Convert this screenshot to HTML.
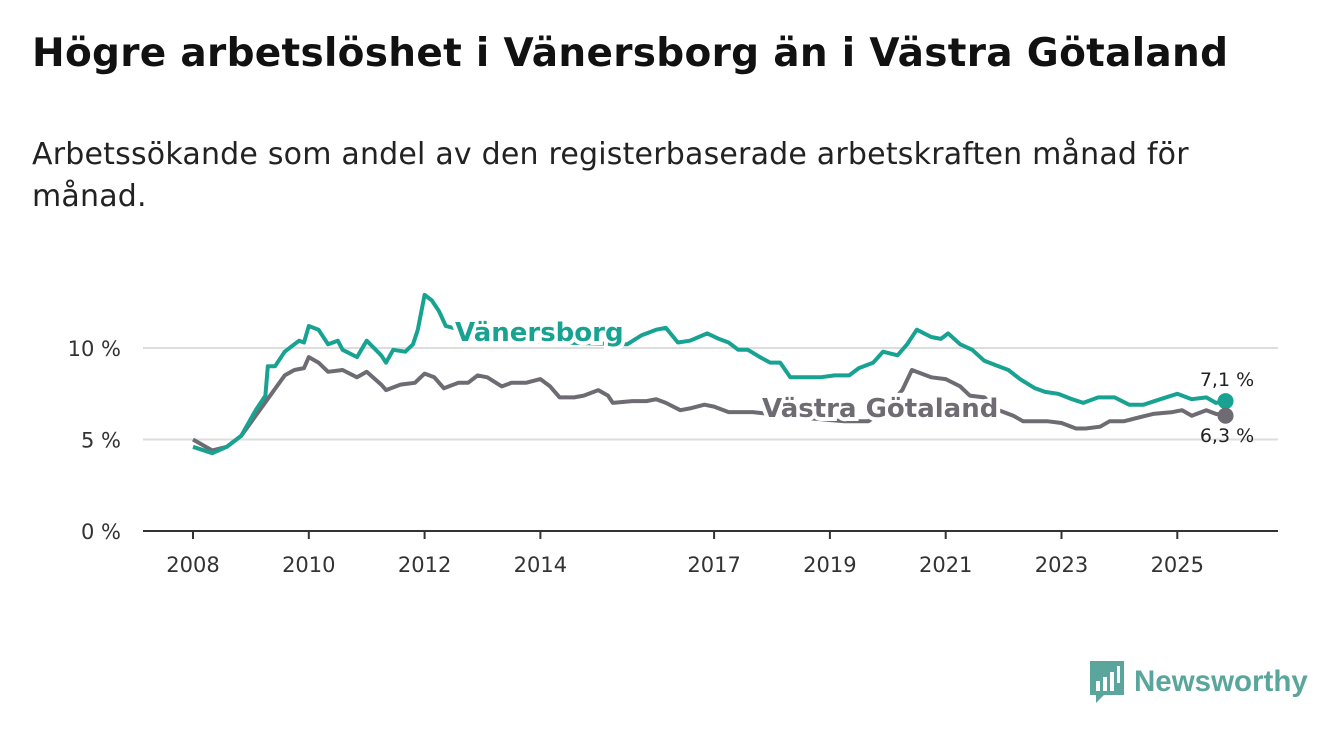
<!DOCTYPE html>
<html><head><meta charset="utf-8"><style>
body{margin:0;width:1340px;height:734px;background:#fff;font-family:"DejaVu Sans","Liberation Sans",sans-serif;overflow:hidden;position:relative}
h1{position:absolute;left:32px;top:31px;margin:0;font-size:39px;font-weight:bold;color:#111;white-space:nowrap;letter-spacing:0.3px}
p{position:absolute;left:32px;top:134px;margin:0;font-size:30px;line-height:42px;color:#222;width:1250px;letter-spacing:0.2px}
</style></head><body>
<h1>Högre arbetslöshet i Vänersborg än i Västra Götaland</h1>
<p>Arbetssökande som andel av den registerbaserade arbetskraften månad för<br>månad.</p>
<svg id="c" width="1340" height="734" style="position:absolute;left:0;top:0"></svg>
<script>
// months since Jan 2008
const vMonths=[0,4,7,10,13,15,15.5,17,19,21,22,23,24,26,28,30,31,34,36,39,40,41.5,44,45.6,46.6,48,49.5,51,52.4,64,76,90,93,96,98,100.5,103,106.6,109,111,113,115,117.5,119.6,121.7,123.8,127,130,133,136,138,141,143,146,148,150,153,155,156.5,159,161.5,164,166,169,171.4,174.5,176.6,179.3,182.2,184.5,187.6,191,194,197,200.5,204,207,210,212,214];
const vVals=[4.6,4.25,4.6,5.2,6.6,7.4,9.0,9.0,9.8,10.2,10.4,10.3,11.2,11.0,10.2,10.4,9.9,9.5,10.4,9.6,9.2,9.9,9.8,10.2,11.0,12.9,12.6,12.0,11.2,10.4,10.3,10.2,10.7,11.0,11.1,10.3,10.4,10.8,10.5,10.3,9.9,9.9,9.5,9.2,9.2,8.4,8.4,8.4,8.5,8.5,8.9,9.2,9.8,9.6,10.2,11.0,10.6,10.5,10.8,10.2,9.9,9.3,9.1,8.8,8.3,7.8,7.6,7.5,7.2,7.0,7.3,7.3,6.9,6.9,7.2,7.5,7.2,7.3,7.0,7.1];
const gMonths=[0,4,7,10,13,16,19,21,23,24,26,28,31,34,36,39,40,43,46,48,50,52,55,57,59,61,64,66,69,72,74,76,79,81,84,86,87,91,94,96,98,101,103,106,108,111,113,116,126,135,140,144,147,149,153,156,159,161,164,167,170,172,177,180,183,185,188,190,193,196,199,203,205,207,210,212,214];
const gVals=[5.0,4.4,4.6,5.2,6.3,7.4,8.5,8.8,8.9,9.5,9.2,8.7,8.8,8.4,8.7,8.0,7.7,8.0,8.1,8.6,8.4,7.8,8.1,8.1,8.5,8.4,7.9,8.1,8.1,8.3,7.9,7.3,7.3,7.4,7.7,7.4,7.0,7.1,7.1,7.2,7.0,6.6,6.7,6.9,6.8,6.5,6.5,6.5,6.2,6.0,6.0,6.8,7.7,8.8,8.4,8.3,7.9,7.4,7.3,6.6,6.3,6.0,6.0,5.9,5.6,5.6,5.7,6.0,6.0,6.2,6.4,6.5,6.6,6.3,6.6,6.4,6.3];
const xTicks=[2008,2010,2012,2014,2017,2019,2021,2023,2025];
const yTicks=[0,5,10];
const X=d=>193+(d-2008)*57.9, XM=m=>X(2008+m/12), Y=v=>531-v*18.3;
const s=document.getElementById('c'),NS='http://www.w3.org/2000/svg';
function mk(t,a,txt){const e=document.createElementNS(NS,t);for(const k in a)e.setAttribute(k,a[k]);if(txt!==undefined)e.textContent=txt;s.appendChild(e);return e;}
yTicks.forEach(v=>{
 if(v>0){const g=mk('line',{x1:143,x2:1278,y1:Y(v),y2:Y(v),stroke:'#ddd','stroke-width':2});
 
 }
 const t=mk('text',{x:121,y:Y(v)+8,'text-anchor':'end','font-size':21,fill:'#333'},v+' %');
 
 
});
const ax=mk('line',{x1:143,x2:1278,y1:531,y2:531,stroke:'#333','stroke-width':2});


xTicks.forEach(d=>{
 const l=mk('line',{x1:X(d),x2:X(d),y1:531,y2:539,stroke:'#333','stroke-width':2});
 
 
 const t=mk('text',{x:X(d),y:572,'text-anchor':'middle','font-size':21,fill:'#333'},d);
 
 
});
function line(ms,vs,col,name){
 const p=mk('path',{d:ms.map((m,i)=>(i?'L':'M')+XM(m).toFixed(1)+','+Y(vs[i]).toFixed(1)).join(''),fill:'none',stroke:col,'stroke-width':4,'stroke-linejoin':'round'});
 
 
}
line(gMonths,gVals,'#6e6b73','line-vastra-gotaland');
line(vMonths,vVals,'#17a292','line-vanersborg');
const c1=mk('circle',{cx:XM(vMonths[vMonths.length-1]),cy:Y(vVals[vVals.length-1]),r:8,fill:'#17a292'});


const c2=mk('circle',{cx:XM(gMonths[gMonths.length-1]),cy:Y(gVals[gVals.length-1]),r:8,fill:'#6e6b73'});


const e1=mk('text',{x:1227,y:386,'text-anchor':'middle','font-size':19,fill:'#222'},vVals[vVals.length-1].toString().replace('.',',')+' %');


const e2=mk('text',{x:1227,y:442,'text-anchor':'middle','font-size':19,fill:'#222'},gVals[gVals.length-1].toString().replace('.',',')+' %');


const a=mk('text',{x:455,y:341,'font-size':26,'font-weight':'bold',fill:'#17a292',stroke:'#fff','stroke-width':8,'paint-order':'stroke'},'Vänersborg');


const b=mk('text',{x:762,y:417,'font-size':26,'font-weight':'bold',fill:'#6e6b73',stroke:'#fff','stroke-width':8,'paint-order':'stroke'},'Västra Götaland');


</script>
<div style="position:absolute;left:1090px;top:661px;display:flex;align-items:center">
<svg width="36" height="42"><path d="M0 0H34V34H14L6 42V34H0Z" fill="#5aa69c"/><rect x="6" y="20" width="4" height="10" fill="#fff"/><rect x="13" y="16" width="4" height="14" fill="#fff"/><rect x="20" y="11" width="4" height="19" fill="#fff"/><rect x="27" y="5" width="3" height="17" fill="#fff"/></svg>
<span style="margin-left:8px;font-size:29.5px;font-weight:bold;color:#5aa69c;font-family:'Liberation Sans',sans-serif">Newsworthy</span></div>
</body></html>
